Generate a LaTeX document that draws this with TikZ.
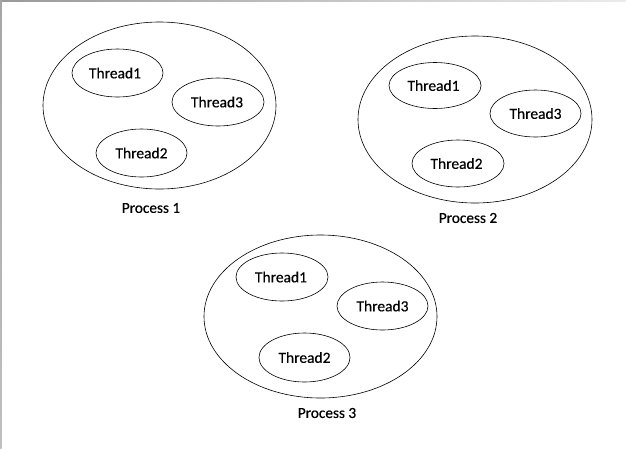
\documentclass[tikz,border=0pt]{standalone}
\usepackage{fontspec}
\setmainfont[FakeBold=0.4,BoldFont=Carlito]{Carlito}
\usetikzlibrary{shapes.geometric}
\begin{document}
\begin{tikzpicture}[x=1pt,y=-1pt,
  proc/.style={draw=black,ellipse,line width=0.6pt,inner sep=0pt},
  thr/.style={draw=black,ellipse,line width=0.6pt,inner sep=0pt,font=\fontsize{15.5}{17}\selectfont\bfseries},
  lbl/.style={font=\fontsize{15.3}{17}\selectfont\bfseries,inner sep=0pt}]
\useasboundingbox (0,0) rectangle (626,448);
\fill[white] (0,0) rectangle (626,448);
\shade[left color=gray!80,right color=gray!15] (0,0) rectangle (626,1.5);
\shade[top color=gray!70,bottom color=gray!50] (0,0) rectangle (1.5,448);
\tikzset{el/.style 2 args={minimum width=#1,minimum height=#2}}
% Process 1
\node[proc,el={233pt}{167pt}] (p1) at (159.5,105.5) {};
\node[thr,el={91pt}{48pt}] (p1t1) at (117.5,73) {\hspace*{-5pt}Thread1};
\node[thr,el={92pt}{48pt}] (p1t3) at (218,102) {\hspace*{-2pt}Thread3};
\node[thr,el={91pt}{48pt}] (p1t2) at (141.5,153) {Thread2};
\node[lbl] (p1l) at (151,208) {Process 1};
% Process 2
\node[proc,el={234pt}{167pt}] (p2) at (475,119.5) {};
\node[thr,el={92pt}{46pt}] (p2t1) at (435,85.5) {\hspace*{-3pt}Thread1};
\node[thr,el={91pt}{47pt}] (p2t3) at (535.5,113.5) {Thread3};
\node[thr,el={92pt}{47pt}] (p2t2) at (458,163.5) {\hspace*{-3pt}Thread2};
\node[lbl] (p2l) at (468,218) {Process 2};
% Process 3
\node[proc,el={233pt}{163pt}] (p3) at (320.5,316.5) {};
\node[thr,el={92pt}{48pt}] (p3t1) at (282,277) {\hspace*{-2pt}Thread1};
\node[thr,el={91pt}{48pt}] (p3t3) at (382.5,306) {Thread3};
\node[thr,el={91pt}{49pt}] (p3t2) at (304.5,357.5) {Thread2};
\node[lbl] (p3l) at (327,413) {Process 3};
\end{tikzpicture}
\end{document}
